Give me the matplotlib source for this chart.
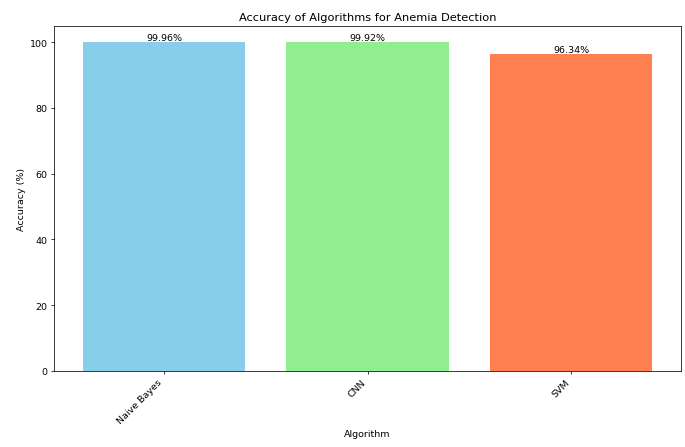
import matplotlib
matplotlib.use('Agg')
import matplotlib.pyplot as plt

algorithms = ['Naive Bayes', 'CNN', 'SVM']
accuracies = [99.96, 99.92, 96.34]
colors = ['skyblue', 'lightgreen', 'coral']

fig = plt.figure(figsize=(10, 6.54), dpi=68.5)
ax = fig.add_subplot(111)
fig.subplots_adjust(left=0.079, right=0.994, top=0.94, bottom=0.170)

bars = ax.bar(algorithms, accuracies, color=colors)
for bar in bars:
    h = bar.get_height()
    ax.text(bar.get_x() + bar.get_width() / 2, h, f'{h:.2f}%', ha='center', va='bottom')

ax.set_title('Accuracy of Algorithms for Anemia Detection')
ax.set_xlabel('Algorithm')
ax.set_ylabel('Accuracy (%)')
plt.xticks(rotation=45, ha='right')

fig.savefig('out.png', dpi=68.5)
